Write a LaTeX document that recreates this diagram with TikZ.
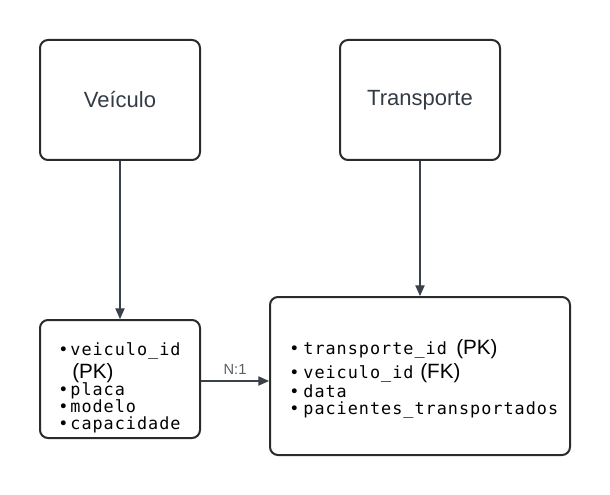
\documentclass[tikz,border=0pt]{standalone}
\usepackage{fontspec}
\setmainfont{Liberation Sans}
\newfontfamily\monofont{DejaVu Sans Mono}[LetterSpace=6]
\usetikzlibrary{arrows.meta}
\definecolor{boxline}{HTML}{2B2B2B}
\definecolor{linkline}{HTML}{3A414A}
\definecolor{titletext}{HTML}{333B45}
\tikzset{
  entity/.style={draw=boxline, line width=1.5pt, rounded corners=6pt, inner sep=0pt},
  conn/.style={draw=linkline, line width=0.8pt, -{Triangle[length=8pt,width=7pt]}},
  field/.style={anchor=base west, inner sep=0pt, font=\monofont\fontsize{12.6}{13}\selectfont},
  key/.style={anchor=base west, inner sep=0pt, font=\fontsize{15.5}{16}\selectfont}
}
\begin{document}
\begin{tikzpicture}[x=0.75pt, y=-0.75pt]

    \useasboundingbox (0,0) rectangle (610,495);

    % Entity boxes
    \node[entity, minimum width=120pt, minimum height=90pt, text=titletext,
          font=\fontsize{16.5}{18}\selectfont] (veiculo) at (120,100) {Veículo};
    \node[entity, minimum width=120pt, minimum height=90pt, text=titletext,
          font=\fontsize{16.5}{18}\selectfont] (transporte) at (420,100) {Transporte};

    % Attribute boxes
    \node[entity, minimum width=120pt, minimum height=88.5pt] (vlist) at (120,379) {};
    \node[entity, minimum width=225pt, minimum height=118.5pt] (tlist) at (420,376) {};

    % Attributes of Veiculo
    \node[field] (vid) at (58,355) {•\kern1.5pt veiculo\_id};
    \node[key] (vpk) at (72,378) {(PK)};
    \node[field] (vplaca) at (58,395) {•\kern1.5pt placa};
    \node[field] (vmodelo) at (58,412) {•\kern1.5pt modelo};
    \node[field] (vcap) at (58,429) {•\kern1.5pt capacidade};

    % Attributes of Transporte
    \node[field] (tid) at (289,354) {•\kern3pt transporte\_id};
    \node[key] (tpk) at (456,354) {(PK)};
    \node[field] (tvid) at (289,378) {•\kern3pt veiculo\_id};
    \node[key] (tfk) at (420,378) {(FK)};
    \node[field] (tdata) at (289,397) {•\kern3pt data};
    \node[field] (tpac) at (289,414) {•\kern3pt pacientes\_transportados};

    % Connectors
    \draw[conn] (veiculo.south) -- (vlist.north);
    \draw[conn] (transporte.south) -- (tlist.north);
    \draw[conn] ([yshift=-1.5pt]vlist.east) -- ([yshift=-1.5pt]vlist.east -| tlist.west)
        node[midway, above=1pt, text=linkline!85, font=\fontsize{11}{12}\selectfont] (card) {N:1};

\end{tikzpicture}
\end{document}
